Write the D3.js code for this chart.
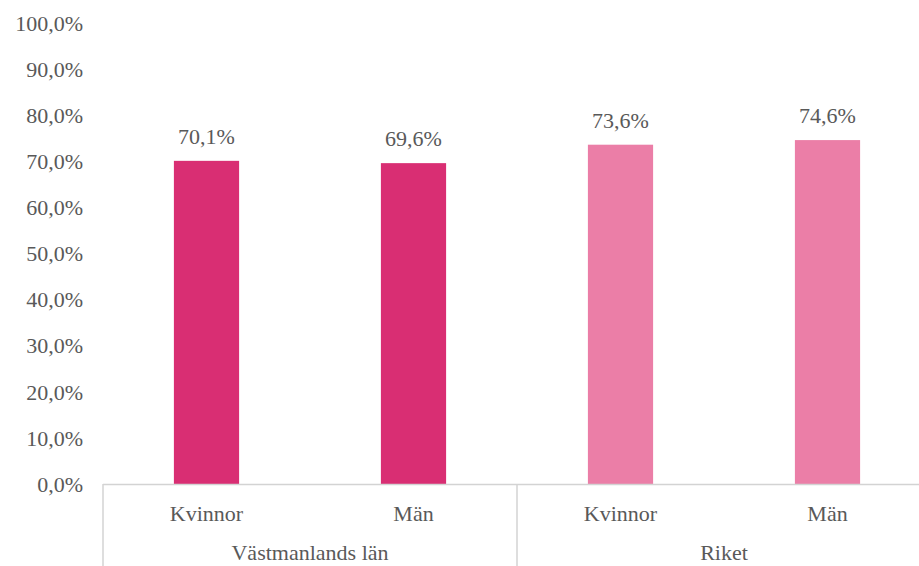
<!DOCTYPE html>
<html>
<head>
<meta charset="utf-8">
<script src="https://cdn.jsdelivr.net/npm/d3@7"></script>
<style>
  body { margin: 0; background: #fff; }
</style>
</head>
<body>
<div id="chart"></div>
<script>
// data
const groups = ["Västmanlands län", "Riket"];
const categories = ["Kvinnor", "Män", "Kvinnor", "Män"];
const values = [70.1, 69.6, 73.6, 74.6];
const colors = ["#D92E73", "#D92E73", "#EB7EA7", "#EB7EA7"];
const yTicks = [0, 10, 20, 30, 40, 50, 60, 70, 80, 90, 100];

const width = 919, height = 566;
const margin = {top: 23, right: -12, bottom: 82, left: 103};
const FONT = '"Liberation Serif"';

const svg = d3.select("#chart").append("svg")
    .attr("width", width).attr("height", height);

const x = d3.scaleBand()
    .domain(d3.range(values.length))
    .range([margin.left, width - margin.right])
    .paddingInner(0.685).paddingOuter(0.3425);

const y = d3.scaleLinear()
    .domain([0, 100])
    .range([height - margin.bottom, margin.top]);

const fmt = v => v.toFixed(1).replace(".", ",") + "%";

function label(sel) {
    return sel.attr("text-anchor", "middle")
        .attr("fill", "#595959")
        .style("font-family", FONT)
        .style("font-size", "22px");
}

// y axis labels (no line, no ticks)
svg.append("g")
    .selectAll("text")
    .data(yTicks)
    .enter().append("text")
    .call(label)
    .attr("text-anchor", "end")
    .attr("x", 83)
    .attr("y", d => y(d))
    .attr("dy", "0.35em")
    .text(fmt);

// bars
svg.append("g")
    .selectAll("rect")
    .data(values)
    .enter().append("rect")
    .attr("x", (d, i) => x(i))
    .attr("width", x.bandwidth())
    .attr("y", d => y(d))
    .attr("height", d => y(0) - y(d))
    .attr("fill", (d, i) => colors[i]);

// data labels
svg.append("g")
    .selectAll("text")
    .data(values)
    .enter().append("text")
    .call(label)
    .attr("x", (d, i) => x(i) + x.bandwidth() / 2)
    .attr("y", d => y(d) - 17)
    .text(fmt);

// baseline and group separators
const step = x.step();
const x0 = margin.left;
const base = y(0);
svg.append("line")
    .attr("x1", x0).attr("x2", width)
    .attr("y1", base + 0.5).attr("y2", base + 0.5)
    .attr("stroke", "#d3d3d3").attr("stroke-width", 1.5);

const sepX = [0, 2, 4].map(k => x0 + k * step);
svg.append("g")
    .selectAll("line")
    .data(sepX)
    .enter().append("line")
    .attr("x1", d => d).attr("x2", d => d)
    .attr("y1", base).attr("y2", height)
    .attr("stroke", "#d3d3d3").attr("stroke-width", 1.5);

// category labels
svg.append("g")
    .selectAll("text")
    .data(categories)
    .enter().append("text")
    .call(label)
    .attr("x", (d, i) => x(i) + x.bandwidth() / 2)
    .attr("y", base + 37)
    .text(d => d);

// group labels
svg.append("g")
    .selectAll("text")
    .data(groups)
    .enter().append("text")
    .call(label)
    .attr("x", (d, g) => x0 + (g * 2 + 1) * step)
    .attr("y", base + 76)
    .text(d => d);
</script>
</body>
</html>
